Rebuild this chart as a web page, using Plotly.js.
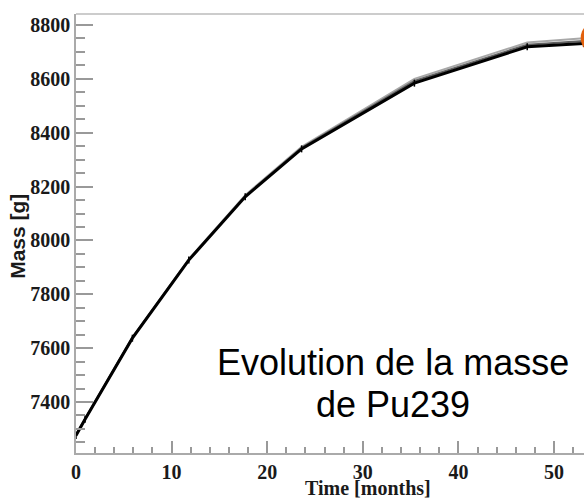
<!DOCTYPE html>
<html>
<head>
<meta charset="utf-8">
<script src="https://cdn.plot.ly/plotly-3.0.1.min.js"></script>
<style>html,body{margin:0;padding:0;background:#fff;}#chart{width:584px;height:499px;}#touch{position:absolute;left:0;top:0;width:1px;height:1px;font-size:1px;color:transparent;}</style>
</head>
<body>
<div id="chart"></div>
<div id="touch"></div>
<script>
// Time in months
const timeMonths = [0, 0.95, 5.9, 11.8, 17.7, 23.6, 35.4, 47.2, 53.1];
// Pu239 mass [g] for several runs
const massRunA = [7276, 7336, 7637, 7927, 8162, 8340, 8584, 8719, 8731];
const massRunB = [7277, 7337, 7638, 7929, 8165, 8344, 8592, 8727, 8741];
const massRunC = [7278, 7338, 7640, 7931, 8168, 8348, 8600, 8735, 8751];
// highlighted point (orange circle, mostly cropped by the image edge)
const highlightX = [54.55];
const highlightY = [8752];
const annotationLines = ["Evolution de la masse", "de Pu239"];

const xRange = [0, 53.14];
const yRange = [7210.7, 8840.8];
const plotW = 508, plotH = 439;
const rPx = 16.8;
const rX = rPx * (xRange[1] - xRange[0]) / plotW;
const rY = rPx * (yRange[1] - yRange[0]) / plotH;

const traces = [
  {x: timeMonths, y: massRunC, mode: 'lines', line: {color: '#a8a8a8', width: 2}},
  {x: timeMonths, y: massRunB, mode: 'lines', line: {color: '#606060', width: 2}},
  {x: timeMonths, y: massRunA, mode: 'lines+markers', line: {color: '#000', width: 3},
   marker: {symbol: 'line-ns', size: 5, line: {color: '#000', width: 1.5}}}
];

const tickColor = '#999';
const tickFont = {family: 'Liberation Serif', size: 20, weight: 'bold', color: '#1a1a1a'};
const layout = {
  width: 584, height: 499,
  margin: {l: 76, r: 0, t: 14, b: 46},
  paper_bgcolor: '#fff', plot_bgcolor: '#fff',
  showlegend: false,
  xaxis: {
    range: xRange, dtick: 10,
    ticks: 'inside', ticklen: 12, tickwidth: 1.5, tickcolor: tickColor,
    minor: {dtick: 2, ticks: 'inside', ticklen: 6},
    showline: true, linecolor: '#aaa', linewidth: 1.5,
    showgrid: false, zeroline: false, tickfont: tickFont
  },
  yaxis: {
    range: yRange, dtick: 200,
    ticks: 'inside', ticklen: 17, tickwidth: 1.5, tickcolor: tickColor,
    minor: {dtick: 50, ticks: 'inside', ticklen: 9},
    showline: true, linecolor: '#aaa', linewidth: 1.5,
    showgrid: false, zeroline: false, tickfont: tickFont
  },
  shapes: [
    {type: 'line', xref: 'paper', yref: 'paper', x0: 0, x1: 1, y0: 1, y1: 1,
     line: {color: '#bbb', width: 1.5}},
    {type: 'circle', xref: 'x', yref: 'y',
     x0: highlightX[0] - rX, x1: highlightX[0] + rX, y0: highlightY[0] - rY, y1: highlightY[0] + rY,
     fillcolor: '#e2600c', line: {width: 0}}
  ],
  annotations: [
    {text: annotationLines[0], xref: 'x', yref: 'y', x: 33.2, y: 7547, xanchor: 'center', yanchor: 'middle',
     showarrow: false, font: {family: 'Liberation Sans', size: 36, color: '#000'}},
    {text: annotationLines[1], xref: 'x', yref: 'y', x: 33.2, y: 7392, xanchor: 'center', yanchor: 'middle',
     showarrow: false, font: {family: 'Liberation Sans', size: 36, color: '#000'}},
    {text: 'Time [months]', xref: 'x', yref: 'paper', x: 30.5, y: -0.079, xanchor: 'center', yanchor: 'middle',
     showarrow: false, font: {family: 'Liberation Serif', size: 20, weight: 'bold', color: '#1a1a1a'}},
    {text: 'Mass [g]', xref: 'paper', yref: 'paper', x: -0.1167, y: 0.494, xanchor: 'center', yanchor: 'middle',
     textangle: -90, showarrow: false, font: {family: 'Liberation Sans', size: 21, weight: 'bold', color: '#1a1a1a'}}
  ]
};

Plotly.newPlot('chart', traces, layout, {displayModeBar: false}).then(function () {
  const t = document.getElementById('touch');
  t.textContent = '.';
  setTimeout(function () { t.textContent = '..'; }, 300);
});
</script>
</body>
</html>
